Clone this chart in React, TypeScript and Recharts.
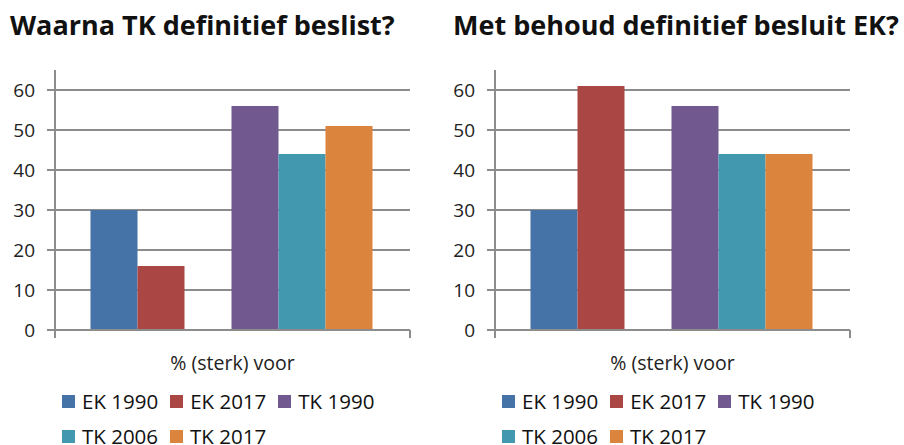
import {BarChart, Bar, XAxis, YAxis, CartesianGrid} from "recharts";

const categories = ["% (sterk) voor"];
const seriesNames = ["EK 1990", "EK 2017", "TK 1990", "TK 2006", "TK 2017"];
const leftValues = [30, 16, 56, 44, 51];
const rightValues = [30, 61, 56, 44, 44];
const yTicks = [0, 10, 20, 30, 40, 50, 60];
const yMax = 65;

const COLORS = ["#4572A7", "#AA4643", "#71588F", "#4198AF", "#DB843D"];
const AXIS = "#8c8c8c";
const FONT = "'Open Sans', sans-serif";

const buildData = (values) =>
    categories.map((name) => {
        const row = {name, spacer: null};
        seriesNames.forEach((s, i) => {
            row[s] = values[i];
        });
        return row;
    });

// gridlines only at the labelled ticks (no line at the axis top)
const gridRows = ({yAxis, offset}) =>
    yTicks.map((t) => {
        const s = yAxis && yAxis.scale;
        if (typeof s === "function") return s(t);
        if (s && typeof s.map === "function") return s.map(t);
        return offset.top + offset.height * (1 - t / yMax);
    });

// category edge ticks + label, like Excel draws them
const EdgeTick = (props) => {
    const {x, y, payload} = props;
    const half = payload && payload.offset ? payload.offset : (props.width || 0) / 2;
    return (
        <g>
            <line x1={x - half} x2={x - half} y1={y} y2={y + 8} stroke={AXIS} strokeWidth={2}/>
            <line x1={x + half} x2={x + half} y1={y} y2={y + 8} stroke={AXIS} strokeWidth={2}/>
            <text x={x} y={y + 40} textAnchor="middle" fill="#222" fontSize={19.5} fontFamily={FONT}>
                {payload.value}
            </text>
        </g>
    );
};

const Panel = ({title, values, left, titleLeft, yWidth, marginRight, legendLeft}) => {
    const data = buildData(values);
    const order = [0, 1, -1, 2, 3, 4];
    return (
        <div style={{position: "absolute", left, top: 0, width: 452, height: 445, overflow: "hidden"}}>
            <div style={{
                position: "absolute", left: titleLeft, top: 6, fontFamily: FONT, fontWeight: 700,
                fontSize: 27, lineHeight: "38px", color: "#111", whiteSpace: "nowrap"
            }}>
                {title}
            </div>
            <BarChart width={452} height={445} data={data}
                      margin={{top: 70, right: marginRight, bottom: 0, left: 0}}
                      barCategoryGap="10%" barGap={0}>
                <CartesianGrid vertical={false} stroke={AXIS} strokeWidth={2}
                               horizontalCoordinatesGenerator={gridRows}/>
                <XAxis dataKey="name" height={115} tickLine={false} tickSize={0} tickMargin={0}
                       axisLine={{stroke: AXIS, strokeWidth: 2}} tick={<EdgeTick/>}/>
                <YAxis domain={[0, yMax]} ticks={yTicks} width={yWidth} tickSize={8} tickMargin={12}
                       axisLine={{stroke: AXIS, strokeWidth: 2}} tickLine={{stroke: AXIS, strokeWidth: 2}}
                       tick={{fill: "#222", fontSize: 19, fontFamily: FONT}} allowDataOverflow/>
                {order.map((i) =>
                    i < 0 ? (
                        <Bar key="spacer" dataKey="spacer" fill="none" isAnimationActive={false}/>
                    ) : (
                        <Bar key={seriesNames[i]} dataKey={seriesNames[i]} fill={COLORS[i]}
                             isAnimationActive={false}/>
                    )
                )}
            </BarChart>
            <div style={{
                position: "absolute", left: legendLeft, top: 384, width: 340, display: "flex",
                flexWrap: "wrap", fontFamily: FONT, fontSize: 20.5, color: "#111", lineHeight: "35px"
            }}>
                {seriesNames.map((s, i) => (
                    <div key={s} style={{display: "flex", alignItems: "center", marginRight: 12}}>
                        <span style={{
                            display: "inline-block", width: 13, height: 13, background: COLORS[i], marginRight: 7
                        }}/>
                        <span>{s}</span>
                    </div>
                ))}
            </div>
        </div>
    );
};

export default function App() {
    return (
        <div style={{position: "absolute", left: 0, top: 0, width: 904, height: 445, background: "#fff"}}>
            <Panel title="Waarna TK definitief beslist?" values={leftValues} left={0} titleLeft={10}
                   yWidth={55} marginRight={42} legendLeft={62}/>
            <Panel title="Met behoud definitief besluit EK?" values={rightValues} left={452} titleLeft={1}
                   yWidth={43} marginRight={54} legendLeft={50}/>
        </div>
    );
}
